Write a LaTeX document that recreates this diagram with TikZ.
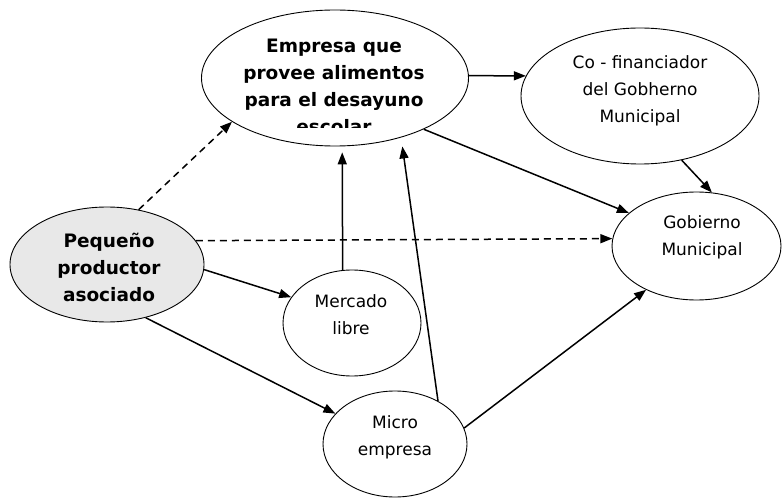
\documentclass[tikz,border=0pt]{standalone}
\usepackage{fontspec}
\setmainfont{DejaVu Sans}
\usetikzlibrary{shapes.geometric,arrows.meta}

\tikzset{every node/.style={inner sep=0pt}}

\begin{document}
\begin{tikzpicture}[x=1pt,y=-1pt,ell/.style={ellipse,draw,line width=0.9pt},
    txt/.style={align=center,font=\fontsize{17}{27}\selectfont},
    boldtxt/.style={align=center,font=\fontsize{18.5}{27}\selectfont\bfseries},
    >={Triangle[length=12pt,width=9pt]},line width=1.5pt]
    \useasboundingbox (0,0) rectangle (783,502);
    %actors
    \node (EMP) at (335,78) [ell,minimum width=267pt,minimum height=136pt]{};
    \node (COF) at (640,96) [ell,minimum width=238pt,minimum height=136pt]{};
    \node (GOB) at (696.5,246) [ell,minimum width=169pt,minimum height=108pt]{};
    \node (PEQ) at (107,264.5) [ell,fill=black!9,minimum width=194pt,minimum height=115pt]{};
    \node (MER) at (352,323) [ell,minimum width=138pt,minimum height=106pt]{};
    \node (MIC) at (395,444) [ell,minimum width=144pt,minimum height=106pt]{};

    %labels
    \begin{scope}
    \clip (0,0) rectangle (783,128);
    \node (EMPt) at (334,86) [boldtxt]{Empresa que\\provee alimentos\\para el desayuno\\escolar};
    \end{scope}
    \node (COFt) at (640,91) [txt]{Co - financiador\\del Gobherno\\Municipal};
    \node (GOBt) at (702,237) [txt]{Gobierno\\Municipal};
    \node (PEQt) at (109,267) [boldtxt]{Pequeño\\productor\\asociado};
    \node (MERt) at (351,314.5) [txt]{Mercado\\libre};
    \node (MICt) at (395,437.5) [txt]{Micro\\empresa};

    %dashed
    \draw [->,dash pattern=on 7pt off 5pt] (PEQ.60) to (EMP.203);
    \draw [->,dash pattern=on 7pt off 5pt] (PEQ.15) to (GOB.175);

    %from the producer
    \draw [->] (PEQ.357) to (MER.157);
    \draw [->] (PEQ.306) to (MIC.153);

    %up to the company
    \draw [->,shorten >=6pt] (MER.100) to (EMP.276);
    \draw [->,shorten >=9pt] (MIC.45) to (EMP.318);

    %to the government
    \draw [->] (EMP.1) to (COF.170);
    \draw [->] (EMP.330) to (GOB.154);
    \draw [->] (COF.303) to (GOB.74);
    \draw [->] (MIC.13) to (GOB.221);
  \end{tikzpicture}
\end{document}
